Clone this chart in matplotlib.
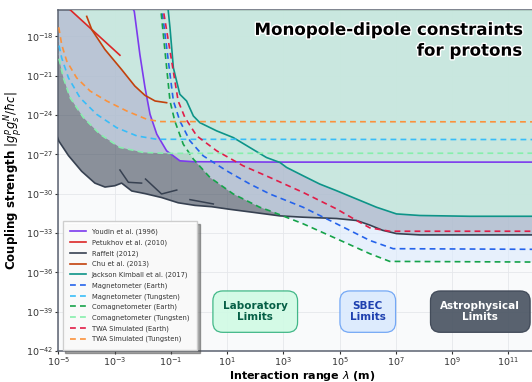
import numpy as np
import matplotlib
matplotlib.use("Agg")
import matplotlib.pyplot as plt
import matplotlib.patheffects as pe

# log10 values (lambda in m, coupling dimensionless)
youdin_lx = [-2.45, -2.30, -2.10, -1.92, -1.74, -1.50, -1.15, -0.68, -0.20, 3.0, 12.0]
youdin_ly = [-15.5, -16.1, -19.4, -21.9, -23.95, -25.47, -26.74, -27.5, -27.57, -27.6, -27.6]

petukhov_lx = [-4.77, -4.52, -2.81]
petukhov_ly = [-15.6, -16.1, -19.45]

raffelt_lx = [-5.1, -4.98, -4.64, -4.17, -3.70, -3.34, -2.99, -2.75, -2.39, -1.92, -1.33,
              -0.74, -0.14, 0.45, 1.10, 1.82, 2.88, 3.70, 4.89, 5.60, 6.07, 6.53, 7.02, 7.85, 12.0]
raffelt_ly = [-25.3, -26.0, -27.1, -28.3, -29.2, -29.5, -29.4, -29.2, -29.8, -30.0, -30.3,
              -30.7, -30.9, -31.0, -31.2, -31.4, -31.7, -31.8, -31.9, -32.05, -32.4, -32.8, -33.05, -33.15, -33.15]
# short extra Raffelt segments
raffelt_seg = [
    ([-2.81, -2.51, -2.04], [-28.2, -29.14, -29.2]),
    ([-1.90, -1.33, -0.79], [-28.89, -30.03, -29.73]),
    ([-0.32, 0.51], [-30.46, -30.79]),
]

chu_lx = [-3.99, -3.81, -3.34, -2.75, -2.28, -1.92, -1.56, -1.15]
chu_ly = [-16.49, -17.5, -19.02, -20.54, -21.8, -22.51, -22.94, -23.07]

jk_lx = [-1.12, -1.09, -1.03, -0.91, -0.68, -0.44, -0.20, 0.03, 0.63, 1.22, 1.81, 2.40, 2.88,
         3.11, 3.70, 4.29, 4.89, 5.60, 6.31, 7.02, 7.85, 9.62, 12.0]
jk_ly = [-15.5, -16.1, -17.37, -20.41, -22.43, -22.94, -24.08, -24.59, -25.22, -25.73, -26.49,
         -27.25, -27.63, -28.0, -28.64, -29.27, -29.78, -30.41, -31.04, -31.55, -31.67, -31.73, -31.73]

mag_earth_lx = [-1.33, -1.31, -0.91, -0.68, -0.32, 0.15, 0.98, 1.81, 2.52, 3.70, 4.89, 6.07, 6.90, 12.0]
mag_earth_ly = [-15.5, -16.1, -22.94, -24.46, -25.98, -27.12, -28.26, -29.27, -30.03, -31.04, -32.3,
                -33.57, -34.2, -34.25]

mag_tung_lx = [-5.1, -4.98, -4.88, -4.64, -4.23, -3.64, -2.93, -2.21, -1.50, 12.0]
mag_tung_ly = [-18.0, -18.64, -19.66, -21.17, -22.69, -23.95, -24.97, -25.6, -25.86, -25.88]

comag_earth_lx = [-1.37, -1.35, -1.03, -0.86, -0.56, -0.20, 0.39, 1.22, 2.16, 2.50, 3.70, 4.89,
                  6.07, 6.78, 12.0]
comag_earth_ly = [-15.5, -16.1, -22.94, -24.46, -26.23, -27.37, -28.77, -30.03, -31.04, -31.3,
                  -32.3, -33.44, -34.58, -35.17, -35.22]

comag_tung_lx = [-5.1, -4.98, -4.82, -4.58, -4.11, -3.52, -2.81, -1.98, -1.15, 12.0]
comag_tung_ly = [-19.0, -19.66, -21.17, -22.69, -24.2, -25.47, -26.48, -26.86, -26.93, -26.92]

twa_earth_lx = [-1.28, -1.26, -0.74, -0.50, -0.08, 0.63, 1.57, 2.52, 3.70, 4.89, 5.60, 6.07, 6.78, 12.0]
twa_earth_ly = [-15.5, -16.1, -22.94, -24.2, -25.6, -26.74, -27.88, -28.77, -29.91, -31.17, -32.05,
                -32.61, -32.87, -32.87]

twa_tung_lx = [-5.1, -4.98, -4.88, -4.70, -4.35, -3.87, -3.28, -2.57, -1.86, -1.39, 12.0]
twa_tung_ly = [-16.6, -17.37, -18.64, -19.9, -21.17, -22.18, -22.94, -23.7, -24.33, -24.51, -24.53]

lab_curves = [
    ("Youdin et al. (1996)", youdin_lx, youdin_ly, "#7c3aed"),
    ("Petukhov et al. (2010)", petukhov_lx, petukhov_ly, "#dc2626"),
    ("Raffelt (2012)", raffelt_lx, raffelt_ly, "#374151"),
    ("Chu et al. (2013)", chu_lx, chu_ly, "#c2410c"),
    ("Jackson Kimball et al. (2017)", jk_lx, jk_ly, "#0d9488"),
]
sbec_curves = [
    ("Magnetometer (Earth)", mag_earth_lx, mag_earth_ly, "#2563eb"),
    ("Magnetometer (Tungsten)", mag_tung_lx, mag_tung_ly, "#38bdf8"),
    ("Comagnetometer (Earth)", comag_earth_lx, comag_earth_ly, "#16a34a"),
    ("Comagnetometer (Tungsten)", comag_tung_lx, comag_tung_ly, "#86efac"),
    ("TWA Simulated (Earth)", twa_earth_lx, twa_earth_ly, "#e11d48"),
    ("TWA Simulated (Tungsten)", twa_tung_lx, twa_tung_ly, "#fb923c"),
]

grid_lx = np.linspace(-5.2, 12.2, 3000)


def envelope(curves):
    vals = []
    for _, lx, ly, _ in curves:
        vals.append(np.interp(grid_lx, lx, ly, left=0.0, right=0.0))
    return np.minimum.reduce(vals)


fig = plt.figure(figsize=(5.32, 3.82), dpi=100)
ax = fig.add_axes([0.1096, 0.0812, 0.899, 0.8927])
ax.set_facecolor("#f9fafb")
ax.set_xscale("log")
ax.set_yscale("log")

lam = 10 ** grid_lx
lab_env = envelope([c for c in lab_curves if c[0] != "Raffelt (2012)"])
sbec_env = envelope(sbec_curves)
astro_env = np.interp(grid_lx, raffelt_lx, raffelt_ly)

ax.fill_between(lam, 10 ** astro_env, 1.0, color="#4b5563", alpha=0.64, lw=0, zorder=1)
ax.fill_between(lam, 10 ** sbec_env, 1.0, color="#dbeafe", alpha=0.6, lw=0, zorder=2)
ax.fill_between(lam, 10 ** lab_env, 1.0, color="#d1fae5", alpha=0.66, lw=0, zorder=3)

for name, lx, ly, col in lab_curves:
    ax.plot(10 ** np.array(lx), 10 ** np.array(ly), color=col, lw=1.2, label=name, zorder=5)
for lx, ly in raffelt_seg:
    ax.plot(10 ** np.array(lx), 10 ** np.array(ly), color="#374151", lw=1.1, zorder=5)
for name, lx, ly, col in sbec_curves:
    ax.plot(10 ** np.array(lx), 10 ** np.array(ly), color=col, lw=1.2, ls=(0, (3.5, 2.5)),
            label=name, zorder=6)

ax.set_xlim(1e-5, 1e12)
ax.set_ylim(1e-42, 1e-16)
ax.set_xticks([10.0 ** k for k in range(-5, 12, 2)])
ax.set_yticks([10.0 ** k for k in range(-42, -17, 3)])
ax.minorticks_off()
ax.tick_params(labelsize=6.8, length=2.5, width=0.8, pad=1.0, colors="#333333")
ax.grid(True, color="#e5e7eb", lw=0.6)
ax.set_axisbelow(True)
for s in ax.spines.values():
    s.set_color("#5b6270")
    s.set_linewidth(1.1)

ax.set_xlabel(r"Interaction range $\lambda$ (m)", fontsize=8.0, fontweight="bold", va="top")
ax.xaxis.set_label_coords(0.51, -0.054)
ax.set_ylabel(r"Coupling strength $|g_p^p g_s^N/\hbar c|$", fontsize=8.5, fontweight="bold")
ax.yaxis.set_label_coords(-0.07, 0.5)

ax.text(0.97, 0.968, "Monopole-dipole constraints\nfor protons", transform=ax.transAxes,
        ha="right", va="top", fontsize=12, fontweight="bold", color="black", zorder=10,
        path_effects=[pe.withStroke(linewidth=2, foreground="white")])

boxes = [
    (1e2, "Laboratory\nLimits", "#d1fae5", "#34b27f", "#065f46"),
    (1e6, "SBEC\nLimits", "#dbeafe", "#6aa2f5", "#1e40af"),
    (1e10, "Astrophysical\nLimits", "#4b5563", "#3b4453", "white"),
]
for xpos, txt, fc, ec, tc in boxes:
    ax.text(xpos, 1e-39, txt, ha="center", va="center", fontsize=7.5, fontweight="bold",
            color=tc, zorder=10,
            bbox=dict(boxstyle="round,pad=0.95", fc=fc, ec=ec, lw=0.9, alpha=0.92))

leg = ax.legend(loc="lower left", bbox_to_anchor=(0.009, 0.003), borderaxespad=0,
                fontsize=4.9, handlelength=2.4, borderpad=1.1, labelspacing=0.62,
                frameon=True, fancybox=False, shadow=True, framealpha=0.95, edgecolor="#cccccc")
for t in leg.get_texts():
    t.set_color("#333333")
leg.set_zorder(11)

fig.savefig("out.png", dpi=100)
